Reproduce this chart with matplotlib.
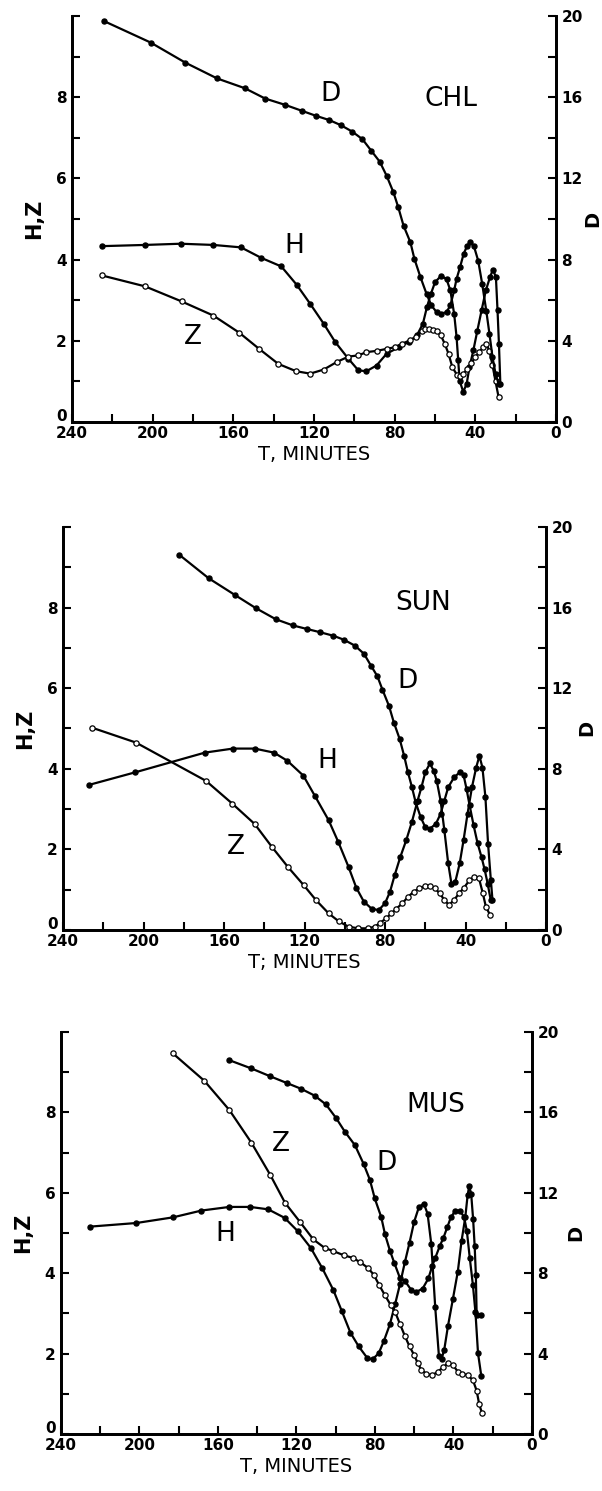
import numpy as np
import matplotlib.pyplot as plt
import matplotlib.transforms as mtransforms
from matplotlib.ticker import MultipleLocator, FixedLocator

# ---- CHL ----
chl_h_t = [225.3, 203.8, 186.1, 169.9, 156.2, 146.1, 136.2, 128.6, 121.9, 115.2, 109.5, 103.0, 98.0, 94.0,
           89.0, 84.0, 78.0, 73.0, 69.0, 66.0, 64.0, 62.0, 60.0, 57.0, 54.3, 52.4, 50.5, 49.3, 48.5, 47.8,
           46.0, 44.3, 42.9, 41.0, 39.0, 36.9, 34.8, 32.7, 31.3, 29.8, 29.0, 28.3, 27.6]
chl_h = [4.33, 4.36, 4.39, 4.36, 4.30, 4.04, 3.83, 3.38, 2.91, 2.42, 1.97, 1.56, 1.27, 1.25,
         1.39, 1.68, 1.84, 1.97, 2.13, 2.42, 2.83, 3.16, 3.44, 3.60, 3.52, 3.24, 2.66, 2.09, 1.52, 1.02,
         0.74, 0.94, 1.35, 1.76, 2.25, 2.75, 3.24, 3.57, 3.75, 3.57, 2.75, 1.93, 0.94]
chl_z_t = [225.3, 203.8, 185.7, 169.9, 157.1, 147.2, 137.7, 128.9, 121.9, 115.2, 108.6, 102.9, 98.0, 94.0,
           89.0, 84.0, 80.0, 76.2, 72.4, 69.5, 66.6, 64.8, 62.8, 60.9, 59.0, 57.1, 55.2, 53.3, 51.4,
           49.0, 47.5, 46.0, 44.0, 42.0, 40.0, 38.0, 36.0, 34.5, 33.0, 31.5, 30.0, 28.5]
chl_z = [3.61, 3.34, 2.97, 2.62, 2.20, 1.80, 1.43, 1.25, 1.19, 1.29, 1.48, 1.61, 1.64, 1.72,
         1.75, 1.80, 1.84, 1.93, 2.01, 2.09, 2.25, 2.30, 2.30, 2.27, 2.24, 2.13, 1.93, 1.68, 1.35,
         1.15, 1.12, 1.18, 1.30, 1.45, 1.60, 1.72, 1.85, 1.92, 1.75, 1.40, 1.00, 0.62]
chl_d_t = [224.2, 201.0, 183.8, 168.0, 154.3, 144.2, 134.3, 126.1, 119.0, 112.4, 106.7, 101.0, 96.0, 91.6,
           87.4, 84.0, 80.6, 78.2, 75.6, 72.2, 70.2, 67.2, 64.2, 61.8, 59.2, 57.1, 54.3, 52.4, 50.5,
           49.3, 47.6, 45.8, 44.0, 42.5, 40.8, 38.6, 36.6, 34.6, 33.0, 31.5, 30.0, 28.5]
chl_d = [19.75, 18.69, 17.70, 16.92, 16.44, 15.93, 15.62, 15.33, 15.08, 14.87, 14.62, 14.30, 13.93, 13.36,
         12.82, 12.13, 11.31, 10.57, 9.67, 8.85, 8.03, 7.13, 6.31, 5.74, 5.41, 5.33, 5.41, 5.74, 6.48,
         7.05, 7.62, 8.28, 8.69, 8.85, 8.69, 7.95, 6.80, 5.49, 4.34, 3.20, 2.38, 1.89]

# ---- SUN ----
sun_h_t = [227.0, 204.2, 169.5, 155.6, 144.8, 135.2, 128.6, 120.6, 114.9, 108.0, 103.2, 98.1, 94.3, 90.5,
           86.7, 83.2, 80.0, 77.5, 75.2, 72.4, 69.5, 66.7, 63.8, 61.9, 60.0, 57.7, 55.8, 54.3, 52.4,
           50.5, 48.6, 47.0, 45.1, 42.9, 41.0, 39.0, 36.8, 34.7, 33.1, 31.6, 30.1, 28.8, 27.4, 26.6]
sun_h = [3.60, 3.91, 4.40, 4.50, 4.50, 4.40, 4.20, 3.83, 3.33, 2.72, 2.18, 1.56, 1.05, 0.70,
         0.53, 0.49, 0.66, 0.95, 1.36, 1.81, 2.22, 2.67, 3.21, 3.54, 3.91, 4.13, 3.95, 3.70, 3.21,
         2.47, 1.65, 1.15, 1.19, 1.65, 2.22, 2.88, 3.54, 4.03, 4.32, 4.03, 3.29, 2.14, 1.23, 0.74]
sun_z_t = [225.7, 203.8, 169.0, 155.8, 144.8, 136.2, 128.2, 120.4, 114.3, 108.0, 102.9, 98.1, 93.3, 88.6,
           85.1, 82.3, 79.4, 76.8, 74.3, 71.4, 68.6, 65.7, 62.9, 60.0, 57.7, 55.2, 52.8, 50.5, 48.2,
           45.7, 43.2, 41.0, 38.1, 35.6, 33.3, 31.4, 29.9, 27.8]
sun_z = [5.02, 4.65, 3.70, 3.13, 2.63, 2.06, 1.56, 1.11, 0.74, 0.41, 0.21, 0.08, 0.04, 0.04,
         0.08, 0.18, 0.29, 0.41, 0.53, 0.66, 0.82, 0.95, 1.03, 1.09, 1.09, 1.03, 0.91, 0.74, 0.62,
         0.74, 0.91, 1.03, 1.23, 1.32, 1.28, 0.91, 0.58, 0.37]
sun_d_t = [182.4, 167.6, 154.7, 144.2, 134.3, 125.7, 118.6, 112.5, 105.7, 100.4, 95.0, 90.5, 87.0, 83.8,
           81.3, 78.0, 75.6, 72.7, 70.5, 68.6, 66.6, 64.8, 62.3, 60.0, 57.7, 54.7, 52.4, 50.5, 48.6,
           45.7, 42.9, 41.0, 39.5, 38.0, 36.0, 34.0, 32.0, 30.5, 29.0, 27.5]
sun_d = [18.63, 17.45, 16.63, 15.97, 15.42, 15.11, 14.93, 14.78, 14.60, 14.40, 14.11, 13.71, 13.12, 12.59,
         11.93, 11.11, 10.29, 9.47, 8.64, 7.82, 7.08, 6.34, 5.60, 5.10, 5.02, 5.27, 5.76, 6.42, 7.08,
         7.57, 7.82, 7.70, 7.00, 6.20, 5.20, 4.30, 3.60, 3.00, 2.30, 1.50]

# ---- MUS ----
mus_h_t = [225.2, 201.6, 183.0, 168.4, 154.2, 143.6, 134.4, 126.1, 119.4, 112.7, 106.9, 101.2, 97.0, 92.5,
           88.3, 83.9, 81.2, 78.1, 75.5, 72.4, 69.7, 67.2, 64.7, 62.4, 60.1, 57.6, 55.1, 53.2, 51.3,
           49.3, 47.4, 46.1, 44.7, 42.8, 40.3, 37.8, 35.9, 34.0, 32.8, 32.0, 31.0, 30.0, 29.2, 28.6,
           28.2, 25.8]
mus_h = [5.16, 5.25, 5.39, 5.56, 5.65, 5.65, 5.59, 5.38, 5.05, 4.63, 4.13, 3.58, 3.07, 2.52,
         2.18, 1.89, 1.86, 2.01, 2.31, 2.73, 3.24, 3.74, 4.29, 4.76, 5.27, 5.65, 5.73, 5.48, 4.72,
         3.15, 1.93, 1.86, 2.10, 2.69, 3.36, 4.04, 4.80, 5.39, 5.94, 6.17, 5.98, 5.35, 4.67, 3.96,
         2.96, 2.96]
mus_z_t = [183.0, 167.0, 154.2, 143.0, 133.4, 125.8, 118.1, 111.4, 105.6, 101.2, 96.0, 91.2, 87.4, 83.5,
           80.6, 77.8, 74.9, 72.0, 69.7, 67.2, 64.7, 62.4, 60.1, 58.2, 56.3, 53.8, 50.9, 48.0, 45.1,
           42.8, 40.3, 37.8, 35.5, 32.6, 30.1, 28.2, 26.9, 25.5]
mus_z = [9.47, 8.79, 8.06, 7.25, 6.45, 5.75, 5.27, 4.84, 4.63, 4.55, 4.45, 4.38, 4.27, 4.13,
         3.96, 3.70, 3.45, 3.21, 3.03, 2.73, 2.43, 2.18, 1.97, 1.76, 1.59, 1.50, 1.46, 1.55, 1.67,
         1.76, 1.72, 1.55, 1.50, 1.46, 1.34, 1.08, 0.74, 0.53]
mus_d_t = [154.2, 143.0, 133.4, 124.8, 117.7, 110.8, 105.0, 99.8, 95.4, 90.2, 85.8, 82.6, 80.1, 76.8,
           74.9, 72.4, 70.1, 67.2, 64.7, 61.4, 58.9, 55.7, 52.8, 50.9, 49.3, 47.0, 45.1, 43.2, 41.3,
           39.0, 36.5, 34.6, 33.2, 31.7, 30.1, 28.8, 27.5, 25.8]
mus_d = [18.60, 18.19, 17.80, 17.46, 17.18, 16.84, 16.40, 15.72, 15.05, 14.37, 13.44, 12.65, 11.72, 10.79,
         9.94, 9.13, 8.50, 7.74, 7.61, 7.15, 7.07, 7.24, 7.74, 8.34, 8.76, 9.35, 9.77, 10.28, 10.79,
         11.12, 11.09, 10.79, 10.11, 8.76, 7.41, 6.05, 4.02, 2.87]

stations = ['CHL', 'SUN', 'MUS']
xlabels = ['T, MINUTES', 'T; MINUTES', 'T, MINUTES']
boxes = [[0.1196, 0.7170, 0.804, 0.2723],
         [0.1047, 0.3763, 0.8023, 0.2703],
         [0.1013, 0.0382, 0.7824, 0.2696]]
# text positions (T, H/Z units)
lab_pos = [{'st': (52, 7.95), 'D': (112, 8.07), 'H': (130, 4.34), 'Z': (180, 2.09)},
           {'st': (61, 8.1), 'D': (68.6, 6.17), 'H': (108.6, 4.2), 'Z': (154, 2.06)},
           {'st': (49, 8.18), 'D': (73.9, 6.75), 'H': (156.5, 4.97), 'Z': (127.7, 7.21)}]
dlab_pad = [0, 3, 5]

data = [((chl_h_t, chl_h), (chl_z_t, chl_z), (chl_d_t, chl_d)),
        ((sun_h_t, sun_h), (sun_z_t, sun_z), (sun_d_t, sun_d)),
        ((mus_h_t, mus_h), (mus_z_t, mus_z), (mus_d_t, mus_d))]

fig = plt.figure(figsize=(6.02, 14.91), dpi=100)
lift = mtransforms.ScaledTranslation(0, 5 / 72, fig.dpi_scale_trans)

for i in range(3):
    ax = fig.add_axes(boxes[i])
    ax2 = ax.twinx()
    (ht, h), (zt, z), (dt, d) = data[i]

    ax.plot(ht, h, 'k-', lw=1.6, marker='o', ms=3.6, mfc='k', mec='k')
    ax.plot(zt, z, 'k-', lw=1.6, marker='o', ms=3.8, mfc='white', mec='k', mew=0.9)
    ax2.plot(dt, d, 'k-', lw=1.6, marker='o', ms=3.6, mfc='k', mec='k')

    ax.set_xlim(240, 0)
    ax.set_ylim(0, 10)
    ax2.set_ylim(0, 20)

    for a in (ax, ax2):
        a.spines['top'].set_visible(False)
        for s in ('left', 'right', 'bottom'):
            a.spines[s].set_linewidth(2)

    ax.xaxis.set_major_locator(MultipleLocator(40))
    ax.xaxis.set_minor_locator(MultipleLocator(20))
    ax.yaxis.set_major_locator(FixedLocator([0, 2, 4, 6, 8]))
    ax.yaxis.set_minor_locator(MultipleLocator(1))
    ax2.yaxis.set_major_locator(MultipleLocator(4))
    ax2.yaxis.set_minor_locator(MultipleLocator(2))

    ax.tick_params(which='both', direction='in', width=1.5, length=6)
    ax.tick_params(which='major', labelsize=11, pad=4)
    ax.tick_params(axis='x', pad=3)
    ax2.tick_params(which='both', direction='in', width=1.5, length=6, labelsize=11, pad=4)
    for lab in ax.get_xticklabels() + ax.get_yticklabels() + ax2.get_yticklabels():
        lab.set_fontweight('bold')

    # the "0" labels sit a little above the corner, as in the print
    for t in (ax.yaxis.get_major_ticks()[0], ax2.yaxis.get_major_ticks()[0]):
        for lab in (t.label1, t.label2):
            lab.set_transform(lab.get_transform() + lift)

    ax.set_xlabel(xlabels[i], fontsize=14, labelpad=3)
    ax.set_ylabel('H,Z', fontsize=15, fontweight='bold', labelpad=8)
    ax2.set_ylabel('D', fontsize=14, fontweight='bold', labelpad=dlab_pad[i])

    p = lab_pos[i]
    ax.text(p['st'][0], p['st'][1], stations[i], fontsize=19, ha='center', va='center')
    for k in ('D', 'H', 'Z'):
        ax.text(p[k][0], p[k][1], k, fontsize=19, ha='center', va='center')

fig.savefig('out.png', dpi=100)
